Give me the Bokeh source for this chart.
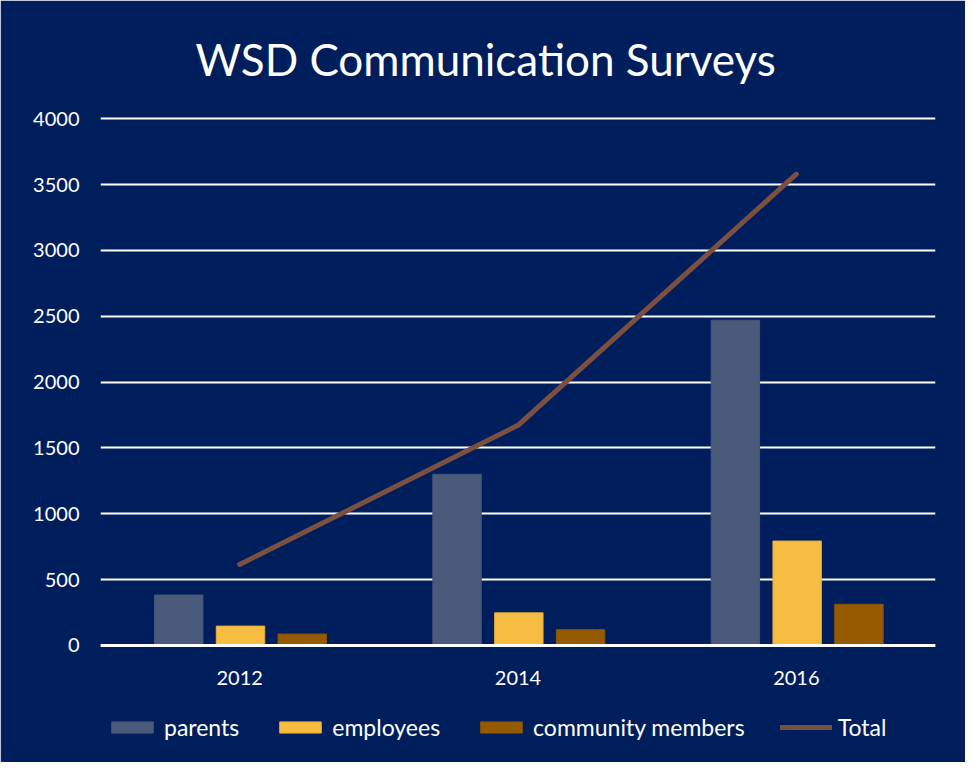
from bokeh.plotting import figure
from bokeh.models import ColumnDataSource, Range1d, FactorRange, Legend, LegendItem, Span, FixedTicker
from bokeh.core.properties import value
from bokeh.transform import dodge
from bokeh.embed import file_html
from bokeh.resources import INLINE

# ---- data ----
years = ["2012", "2014", "2016"]
parents = [383, 1300, 2470]
employees = [147, 248, 793]
community = [87, 120, 313]
total = [615, 1672, 3580]
y_ticks = [0, 500, 1000, 1500, 2000, 2500, 3000, 3500, 4000]

NAVY = "#001e5c"
FONT = "Lato"

src = ColumnDataSource(dict(years=years, parents=parents, employees=employees,
                            community=community, total=total,
                            base=[0] * len(years)))

p = figure(width=965, height=762, output_backend="svg", toolbar_location=None,
           x_range=FactorRange(*years, range_padding=0),
           y_range=Range1d(-828, 4040),
           x_axis_location=None,
           min_border_left=100, min_border_right=30,
           min_border_top=113, min_border_bottom=8,
           border_fill_color=NAVY, background_fill_color=NAVY,
           outline_line_color=NAVY, outline_line_width=3)

p.title.text = "WSD Communication Surveys"
p.title.text_color = "white"
p.title.text_font = FONT
p.title.text_font_style = "normal"
p.title.text_font_size = "44px"
p.title.align = "left"
p.title.offset = 95
p.title.standoff = 58

# y axis
p.yaxis.axis_line_color = None
p.yaxis.major_tick_line_color = None
p.yaxis.minor_tick_line_color = None
p.yaxis.major_tick_out = 0
p.yaxis.major_tick_in = 0
p.yaxis.major_label_text_color = "white"
p.yaxis.major_label_text_font = FONT
p.yaxis.major_label_text_font_size = "20px"
p.yaxis.major_label_standoff = 21
p.yaxis.ticker = FixedTicker(ticks=y_ticks)

p.xgrid.grid_line_color = None
p.ygrid.ticker = FixedTicker(ticks=y_ticks)
p.ygrid.grid_line_color = "white"
p.ygrid.grid_line_width = 2

bw = 0.174
r1 = p.vbar(x=dodge("years", -0.219, range=p.x_range), top="parents", width=bw, bottom=0,
            source=src, fill_color="#4a5a7a", line_color="#46567a", line_width=1)
r2 = p.vbar(x=dodge("years", 0.003, range=p.x_range), top="employees", width=bw, bottom=0,
            source=src, fill_color="#f6bd41", line_color="#e8ad38", line_width=1)
r3 = p.vbar(x=dodge("years", 0.225, range=p.x_range), top="community", width=bw, bottom=0,
            source=src, fill_color="#965b00", line_color="#8a5404", line_width=1)
r4 = p.line(x="years", y="total", source=src, line_color="#7b5040", line_width=5,
            line_cap="round", line_join="round")

p.add_layout(Span(location=0, dimension="width", line_color="white", line_width=3))

# category labels under the zero line
p.text(x="years", y="base", text="years", source=src, y_offset=33,
       text_align="center", text_baseline="middle", text_color="white",
       text_font=value(FONT), text_font_size="20px")

legend = Legend(items=[LegendItem(label="parents", renderers=[r1]),
                       LegendItem(label="employees", renderers=[r2]),
                       LegendItem(label="community members", renderers=[r3]),
                       LegendItem(label="Total", renderers=[r4])],
                orientation="horizontal", location=(6, 13),
                glyph_width=52, glyph_height=14, label_standoff=6, spacing=35,
                padding=0, margin=0, background_fill_alpha=0, border_line_alpha=0,
                label_text_color="white", label_text_font=FONT,
                label_text_font_size="23px")
p.add_layout(legend)

html = file_html(p, INLINE)
open("out.html", "w").write(html)
